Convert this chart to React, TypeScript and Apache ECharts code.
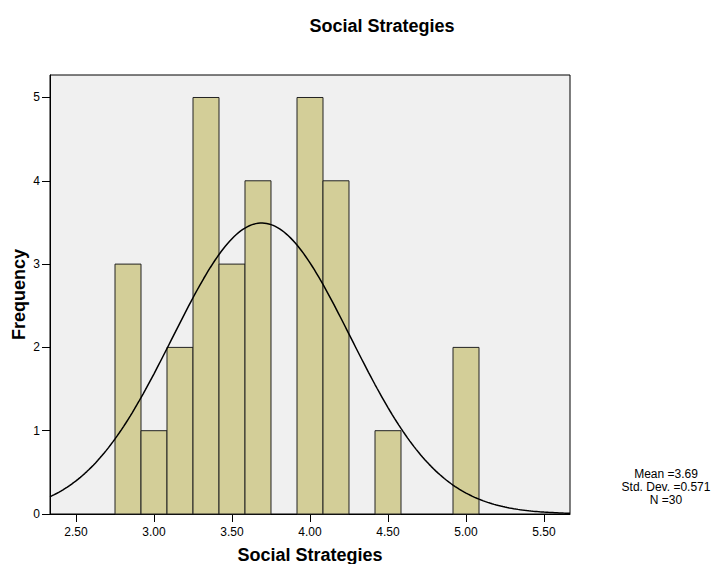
import React, { useEffect, useRef } from "react";
import * as echarts from "echarts";

// Histogram of "Social Strategies" scores (bins of width 1/6)
const BIN_WIDTH = 1 / 6;
const binLower = [
  2.75, 2.9167, 3.0833, 3.25, 3.4167, 3.5833, 3.75,
  3.9167, 4.0833, 4.25, 4.4167, 4.5833, 4.75, 4.9167,
];
const frequencies = [3, 1, 2, 5, 3, 4, 0, 5, 4, 0, 1, 0, 0, 2];

// Summary statistics shown beside the chart
const MEAN = 3.69;
const STD_DEV = 0.571;
const N = 30;

const xTickValues = [2.5, 3.0, 3.5, 4.0, 4.5, 5.0, 5.5];
const X_MIN = 7 / 3;
const X_MAX = 17 / 3;
const Y_MAX = 5.27;

const FONT = '"Liberation Sans", Arial, Helvetica, sans-serif';

// Normal curve scaled to the histogram's counts (N * bin width * density)
function normalCurve(): number[][] {
  const pts: number[][] = [];
  const steps = 240;
  for (let i = 0; i <= steps; i++) {
    const x = X_MIN + ((X_MAX - X_MIN) * i) / steps;
    const z = (x - MEAN) / STD_DEV;
    const d = Math.exp(-0.5 * z * z) / (STD_DEV * Math.sqrt(2 * Math.PI));
    pts.push([x, d * N * BIN_WIDTH]);
  }
  return pts;
}

export default function App() {
  const ref = useRef<HTMLDivElement>(null);

  useEffect(() => {
    if (!ref.current) return;
    const chart = echarts.init(ref.current, undefined, { renderer: "svg" });

    const bins = binLower.map((lo, i) => [lo, lo + BIN_WIDTH, frequencies[i]]);

    const statText = (text: string, y: number) => ({
      type: "text",
      x: 666,
      y,
      style: {
        text,
        font: `12px ${FONT}`,
        fill: "#000",
        align: "center",
        verticalAlign: "middle",
      },
    });

    chart.setOption({
      animation: false,
      backgroundColor: "#ffffff",
      grid: {
        left: 50,
        top: 75,
        width: 520,
        height: 439,
        show: true,
        backgroundColor: "#f0f0f0",
        borderColor: "#000000",
        borderWidth: 1,
      },
      xAxis: {
        type: "value",
        min: X_MIN,
        max: X_MAX,
        axisLine: { show: true, lineStyle: { color: "#000", width: 1 } },
        axisTick: {
          show: true,
          length: 8,
          customValues: xTickValues,
          lineStyle: { color: "#000", width: 1 },
        },
        axisLabel: {
          customValues: xTickValues,
          formatter: (v: number) => v.toFixed(2),
          margin: 12,
          color: "#000",
          fontSize: 12,
          fontFamily: FONT,
        },
        splitLine: { show: false },
      },
      yAxis: {
        type: "value",
        min: 0,
        max: Y_MAX,
        interval: 1,
        axisLine: { show: true, lineStyle: { color: "#000", width: 1 } },
        axisTick: { show: true, length: 8, lineStyle: { color: "#000", width: 1 } },
        axisLabel: {
          margin: 10,
          color: "#000",
          fontSize: 12,
          fontFamily: FONT,
          showMaxLabel: false,
        },
        splitLine: { show: false },
      },
      series: [
        {
          type: "custom",
          data: bins,
          encode: { x: [0, 1], y: 2 },
          z: 2,
          renderItem: (params: any, api: any) => {
            const count = api.value(2);
            if (!count) return null;
            const p0 = api.coord([api.value(0), count]);
            const p1 = api.coord([api.value(1), 0]);
            return {
              type: "rect",
              shape: {
                x: p0[0],
                y: p0[1],
                width: p1[0] - p0[0],
                height: p1[1] - p0[1],
              },
              style: { fill: "#d3ce98", stroke: "#222222", lineWidth: 1 },
            };
          },
        },
        {
          type: "line",
          data: normalCurve(),
          showSymbol: false,
          symbol: "none",
          smooth: false,
          z: 3,
          lineStyle: { color: "#000", width: 1.5 },
        },
      ],
      graphic: [
        {
          type: "text",
          x: 382,
          y: 26,
          style: {
            text: "Social Strategies",
            font: `bold 18px ${FONT}`,
            fill: "#000",
            align: "center",
            verticalAlign: "middle",
          },
        },
        {
          type: "text",
          x: 310,
          y: 555,
          style: {
            text: "Social Strategies",
            font: `bold 18px ${FONT}`,
            fill: "#000",
            align: "center",
            verticalAlign: "middle",
          },
        },
        {
          type: "text",
          x: 19,
          y: 294.5,
          rotation: Math.PI / 2,
          style: {
            text: "Frequency",
            font: `bold 18px ${FONT}`,
            fill: "#000",
            align: "center",
            verticalAlign: "middle",
          },
        },
        statText(`Mean =${MEAN.toFixed(2)}`, 474),
        statText(`Std. Dev. =${STD_DEV.toFixed(3)}`, 487),
        statText(`N =${N}`, 500),
      ],
    });

    return () => chart.dispose();
  }, []);

  return (
    <div
      ref={ref}
      style={{ position: "fixed", left: 0, top: 0, width: 716, height: 564 }}
    />
  );
}
